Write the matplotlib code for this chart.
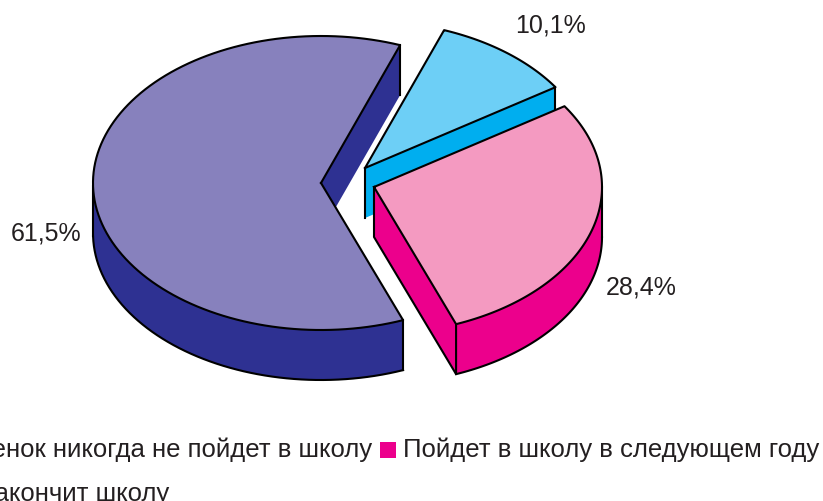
"""
Объемная круговая диаграмма с выдвинутыми секторами
"""
import numpy as np
import matplotlib
matplotlib.use("Agg")
import matplotlib.pyplot as plt

plt.rcParams["font.family"] = ["Liberation Sans", "DejaVu Sans"]

# Data
categories = ["Закончит школу", "Пойдет в школу в следующем году", "Ребенок никогда не пойдет в школу"]
values = [10.1, 28.4, 61.5]
value_labels = ["10,1%", "28,4%", "61,5%"]

# Style
top_colors = ["#6DCFF6", "#F49AC1", "#8781BD"]
side_colors = ["#00AEEF", "#EC008C", "#2E3192"]
offsets = [(44, -15), (53, 4), (0, 0)]
label_pos = [(551, 25), (641, 287), (46, 233)]

CENTER = (321, 183)
RX, RY = 228, 147
DEPTH = 50
START = 20.3  # градусы по часовой от верха
EDGE = "black"
LW = 1.5


def rim(a0, a1, dx=0, dy=0):
    a = np.radians(np.linspace(a0, a1, 120))
    return np.column_stack((CENTER[0] + dx + RX * np.sin(a), CENTER[1] + dy - RY * np.cos(a)))


def fill(ax, pts, color, z):
    ax.fill(pts[:, 0], pts[:, 1], color=color, lw=0, zorder=z)


def stroke(ax, pts, z):
    ax.plot(pts[:, 0], pts[:, 1], color=EDGE, lw=LW, zorder=z + 0.5, solid_joinstyle="round")


fig = plt.figure(figsize=(8.23, 5.01), dpi=100)
ax = fig.add_axes([0, 0, 1, 1])
ax.set_xlim(0, 823)
ax.set_ylim(501, 0)
ax.axis("off")

angles = START + np.cumsum([0] + [v / sum(values) * 360 for v in values])
down = np.array([0, DEPTH])

# порядок отрисовки: большой сектор, голубой, розовый
for i, z in [(2, 1), (0, 2), (1, 3)]:
    a0, a1 = angles[i], angles[i + 1]
    dx, dy = offsets[i]
    apex = np.array([[CENTER[0] + dx, CENTER[1] + dy]])
    arc = rim(a0, a1, dx, dy)
    top = np.vstack((apex, arc, apex))

    if i == 2:
        # внутренняя грань у верхнего края и нижний обод
        end = arc[-1:]
        face = np.vstack((apex, end, end + down, apex + down))
        fill(ax, face, side_colors[i], z)
        stroke(ax, np.vstack((end, end + down)), z)
        front = arc[(arc[:, 1] >= CENTER[1]) & (arc[:, 0] <= arc[0, 0] + 1)]
        band = np.vstack((front, (front + down)[::-1]))
        fill(ax, band, side_colors[i], z)
        stroke(ax, front + down, z)
        stroke(ax, np.vstack((front[0], front[0] + down)), z)
        stroke(ax, np.vstack((front[-1], front[-1] + down)), z)
    elif i == 0:
        # передняя грань голубого сектора
        end = arc[-1:]
        face = np.vstack((apex, end, end + down, apex + down))
        fill(ax, face, side_colors[i], z)
        stroke(ax, np.vstack((apex, apex + down)), z)
        stroke(ax, np.vstack((end, end + down)), z)
    else:
        # левая грань и обод розового сектора
        end = arc[-1:]
        face = np.vstack((apex, end, end + down, apex + down))
        fill(ax, face, side_colors[i], z)
        stroke(ax, np.vstack((apex, apex + down, end + down, end)), z)
        front = arc[arc[:, 1] >= CENTER[1] + dy]
        band = np.vstack((front, (front + down)[::-1]))
        fill(ax, band, side_colors[i], z)
        stroke(ax, front + down, z)
        stroke(ax, np.vstack((front[0], front[0] + down)), z)

    z_top = z + 0.6
    fill(ax, top, top_colors[i], z_top)
    stroke(ax, top, z_top)

for label, (x, y) in zip(value_labels, label_pos):
    ax.text(x, y, label, fontsize=18, color="#231F20", ha="center", va="center", zorder=10)

# Легенда, обрезанная краями рисунка, как на исходном рисунке
ax.text(372, 450, categories[2], fontsize=18.5, color="#231F20", ha="right", va="center", zorder=10)
ax.scatter([388], [450], marker="s", s=125, color=side_colors[1], lw=0, zorder=10)
ax.text(403, 450, categories[1], fontsize=18.5, color="#231F20", ha="left", va="center", zorder=10)
ax.text(169, 494, categories[0], fontsize=18.5, color="#231F20", ha="right", va="center", zorder=10)

fig.savefig("out.png", dpi=100)
